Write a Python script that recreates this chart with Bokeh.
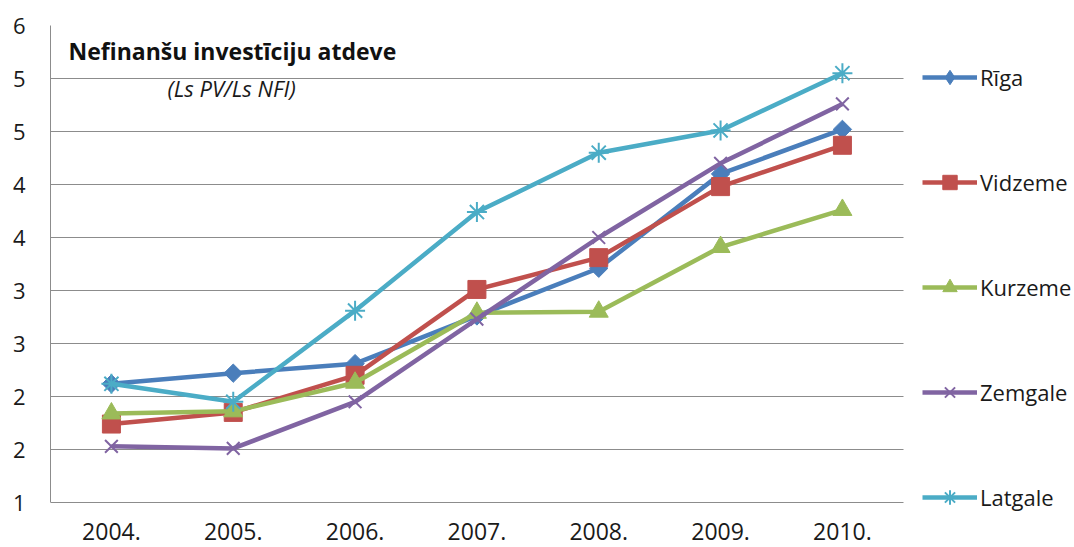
from bokeh.plotting import figure
from bokeh.models import (Range1d, FixedTicker, CustomJSTickFormatter,
                          Legend, LegendItem, Label, LabelSet, ColumnDataSource)
from bokeh.core.properties import value
from bokeh.embed import file_html
from bokeh.resources import INLINE
import math

years = ["2004.", "2005.", "2006.", "2007.", "2008.", "2009.", "2010."]
riga = [2.12, 2.22, 2.31, 2.76, 3.21, 4.10, 4.52]
vidzeme = [1.74, 1.85, 2.20, 3.01, 3.31, 3.98, 4.37]
kurzeme = [1.84, 1.86, 2.13, 2.79, 2.80, 3.41, 3.76]
zemgale = [1.53, 1.51, 1.95, 2.73, 3.50, 4.20, 4.76]
latgale = [2.12, 1.95, 2.81, 3.74, 4.30, 4.51, 5.05]
y_ticks = [1, 1.5, 2, 2.5, 3, 3.5, 4, 4.5, 5, 5.5]

title_text = "Nefinanšu investīciju atdeve"
subtitle_text = "(Ls PV/Ls NFI)"

xi = list(range(len(years)))
FONT = "Open Sans"
GRID = "#8c8c8c"
TXT = "#1a1a1a"

# plot area: category slots span x -0.5..6.5, y axis 1..5.5;
# the frame is extended right/down to host legend and year labels.
p = figure(width=1074, height=547, output_backend="svg", toolbar_location=None,
           x_range=Range1d(-0.5, 7.905), y_range=Range1d(0.5755, 5.5),
           min_border_left=50, min_border_right=0, min_border_top=25,
           min_border_bottom=0)
p.outline_line_color = None
p.background_fill_color = "white"
p.border_fill_color = "white"

p.xaxis.visible = False
p.xgrid.visible = False

p.yaxis.ticker = FixedTicker(ticks=y_ticks)
p.yaxis.bounds = (1, 5.5)
p.yaxis.formatter = CustomJSTickFormatter(code="return Math.round(tick).toString();")
p.yaxis.axis_line_color = GRID
p.yaxis.major_tick_out = 0
p.yaxis.major_tick_in = 0
p.yaxis.minor_tick_out = 0
p.yaxis.minor_tick_in = 0
p.yaxis.major_label_standoff = 25
p.yaxis.major_label_text_font = FONT
p.yaxis.major_label_text_font_size = "22px"
p.yaxis.major_label_text_color = TXT

p.ygrid.ticker = FixedTicker(ticks=y_ticks)
p.ygrid.grid_line_color = GRID
p.ygrid.grid_line_width = 1
p.ygrid.cross_bounds = (-0.5, 6.5)

# year labels under the category slots
src_years = ColumnDataSource(dict(x=xi, y=[1] * len(years), t=years))
p.add_layout(LabelSet(x="x", y="y", text="t", source=src_years, y_offset=-37,
                      text_align="center", text_baseline="alphabetic",
                      text_font=value(FONT), text_font_size="23px", text_color=TXT))

series = [
    ("Rīga", riga, "#4A7EBB", "square", 13, math.pi / 4),
    ("Vidzeme", vidzeme, "#C0504D", "square", 18, 0),
    ("Kurzeme", kurzeme, "#9BBB59", "triangle", 19, 0),
    ("Zemgale", zemgale, "#8064A2", "x", 18, 0),
    ("Latgale", latgale, "#4BACC6", "asterisk", 20, 0),
]

items = []
for name, vals, col, mk, sz, ang in series:
    r1 = p.line(xi, vals, line_color=col, line_width=4.5)
    if mk in ("x", "asterisk"):
        r2 = p.scatter(xi, vals, marker=mk, size=sz, line_color=col, line_width=2)
        leg = [r1, r2]
    else:
        r2 = p.scatter(xi, vals, marker=mk, size=sz, angle=ang,
                       fill_color=col, line_color=col)
        leg = [r1, r2]
        if ang:
            # legend swatch shows the diamond shape (angle is not used in legends)
            r3 = p.scatter(xi, vals, marker="diamond", size=sz, fill_color=col,
                           line_color=col, visible=False)
            leg = [r1, r3]
    items.append(LegendItem(label=name, renderers=leg))

legend = Legend(items=items, location=(872, 32), orientation="vertical",
                glyph_width=55, glyph_height=36, label_height=36, spacing=69,
                label_standoff=3, padding=0, margin=0,
                border_line_color=None, background_fill_alpha=0,
                label_text_font=FONT, label_text_font_size="22px",
                label_text_color=TXT)
p.add_layout(legend, "center")

p.add_layout(Label(x=18, y=497, x_units="screen", y_units="screen", text=title_text,
                   text_font=FONT, text_font_style="bold", text_font_size="23px",
                   text_baseline="alphabetic", text_color="#111111"))
p.add_layout(Label(x=117, y=460, x_units="screen", y_units="screen", text=subtitle_text,
                   text_font=FONT, text_font_style="italic", text_font_size="22px",
                   text_baseline="alphabetic", text_color=TXT))

open("out.html", "w").write(file_html(p, INLINE))
